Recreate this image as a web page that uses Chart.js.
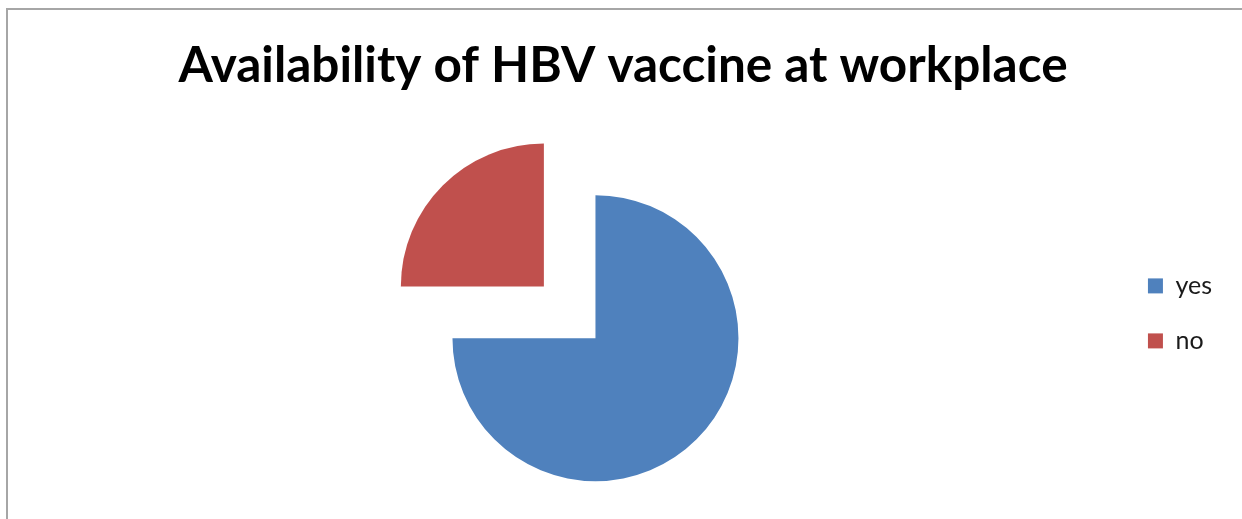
<!DOCTYPE html>
<html>
<head>
<meta charset="utf-8">
<script src="https://cdn.jsdelivr.net/npm/chart.js@4/dist/chart.umd.min.js"></script>
<style>
  html, body { margin: 0; padding: 0; background: #ffffff; }
  #wrap { position: relative; width: 1242px; height: 519px; overflow: hidden; }
  #frame { position: absolute; left: 6px; top: 8px; width: 1400px; height: 700px;
           border: 2px solid #a6a6a6; box-sizing: border-box; }
  #chart { position: absolute; left: 0; top: 0; }
</style>
</head>
<body>
<div id="wrap">
  <div id="frame"></div>
  <canvas id="chart" width="1242" height="519"></canvas>
</div>
<script>
// Answers to "Is HBV vaccine available at your workplace?"
const categories = ['yes', 'no'];
const shares = [75, 25];
const sliceColors = ['#4f81bd', '#c0504d'];
const sliceOffsets = [0, 292];   // the "no" slice is pulled out of the pie

new Chart(document.getElementById('chart'), {
  type: 'pie',
  data: {
    labels: categories,
    datasets: [{
      data: shares,
      backgroundColor: sliceColors,
      hoverBackgroundColor: sliceColors,
      borderWidth: 0,
      offset: sliceOffsets,
      hoverOffset: 0
    }]
  },
  options: {
    responsive: false,
    animation: false,
    radius: 143,
    layout: { padding: { left: 24, right: 20, top: 0, bottom: 0 } },
    plugins: {
      tooltip: { enabled: false },
      title: {
        display: true,
        text: 'Availability of HBV vaccine at workplace',
        color: '#000000',
        font: { family: 'Lato', size: 49.5, weight: 'bold' },
        padding: { top: 36, bottom: 62 }
      },
      // empty left-hand block: keeps the plot area off the left edge
      subtitle: {
        display: true,
        position: 'left',
        fullSize: false,
        text: '',
        font: { size: 10 },
        padding: { top: 37, bottom: 0 }
      },
      legend: {
        display: true,
        position: 'right',
        align: 'start',
        title: { display: true, text: '', font: { size: 12 }, padding: { top: 229, bottom: 0 } },
        labels: {
          boxWidth: 15,
          boxHeight: 15,
          padding: 30,
          color: '#1a1a1a',
          font: { family: 'Lato', size: 25 }
        }
      }
    }
  }
});
</script>
</body>
</html>
